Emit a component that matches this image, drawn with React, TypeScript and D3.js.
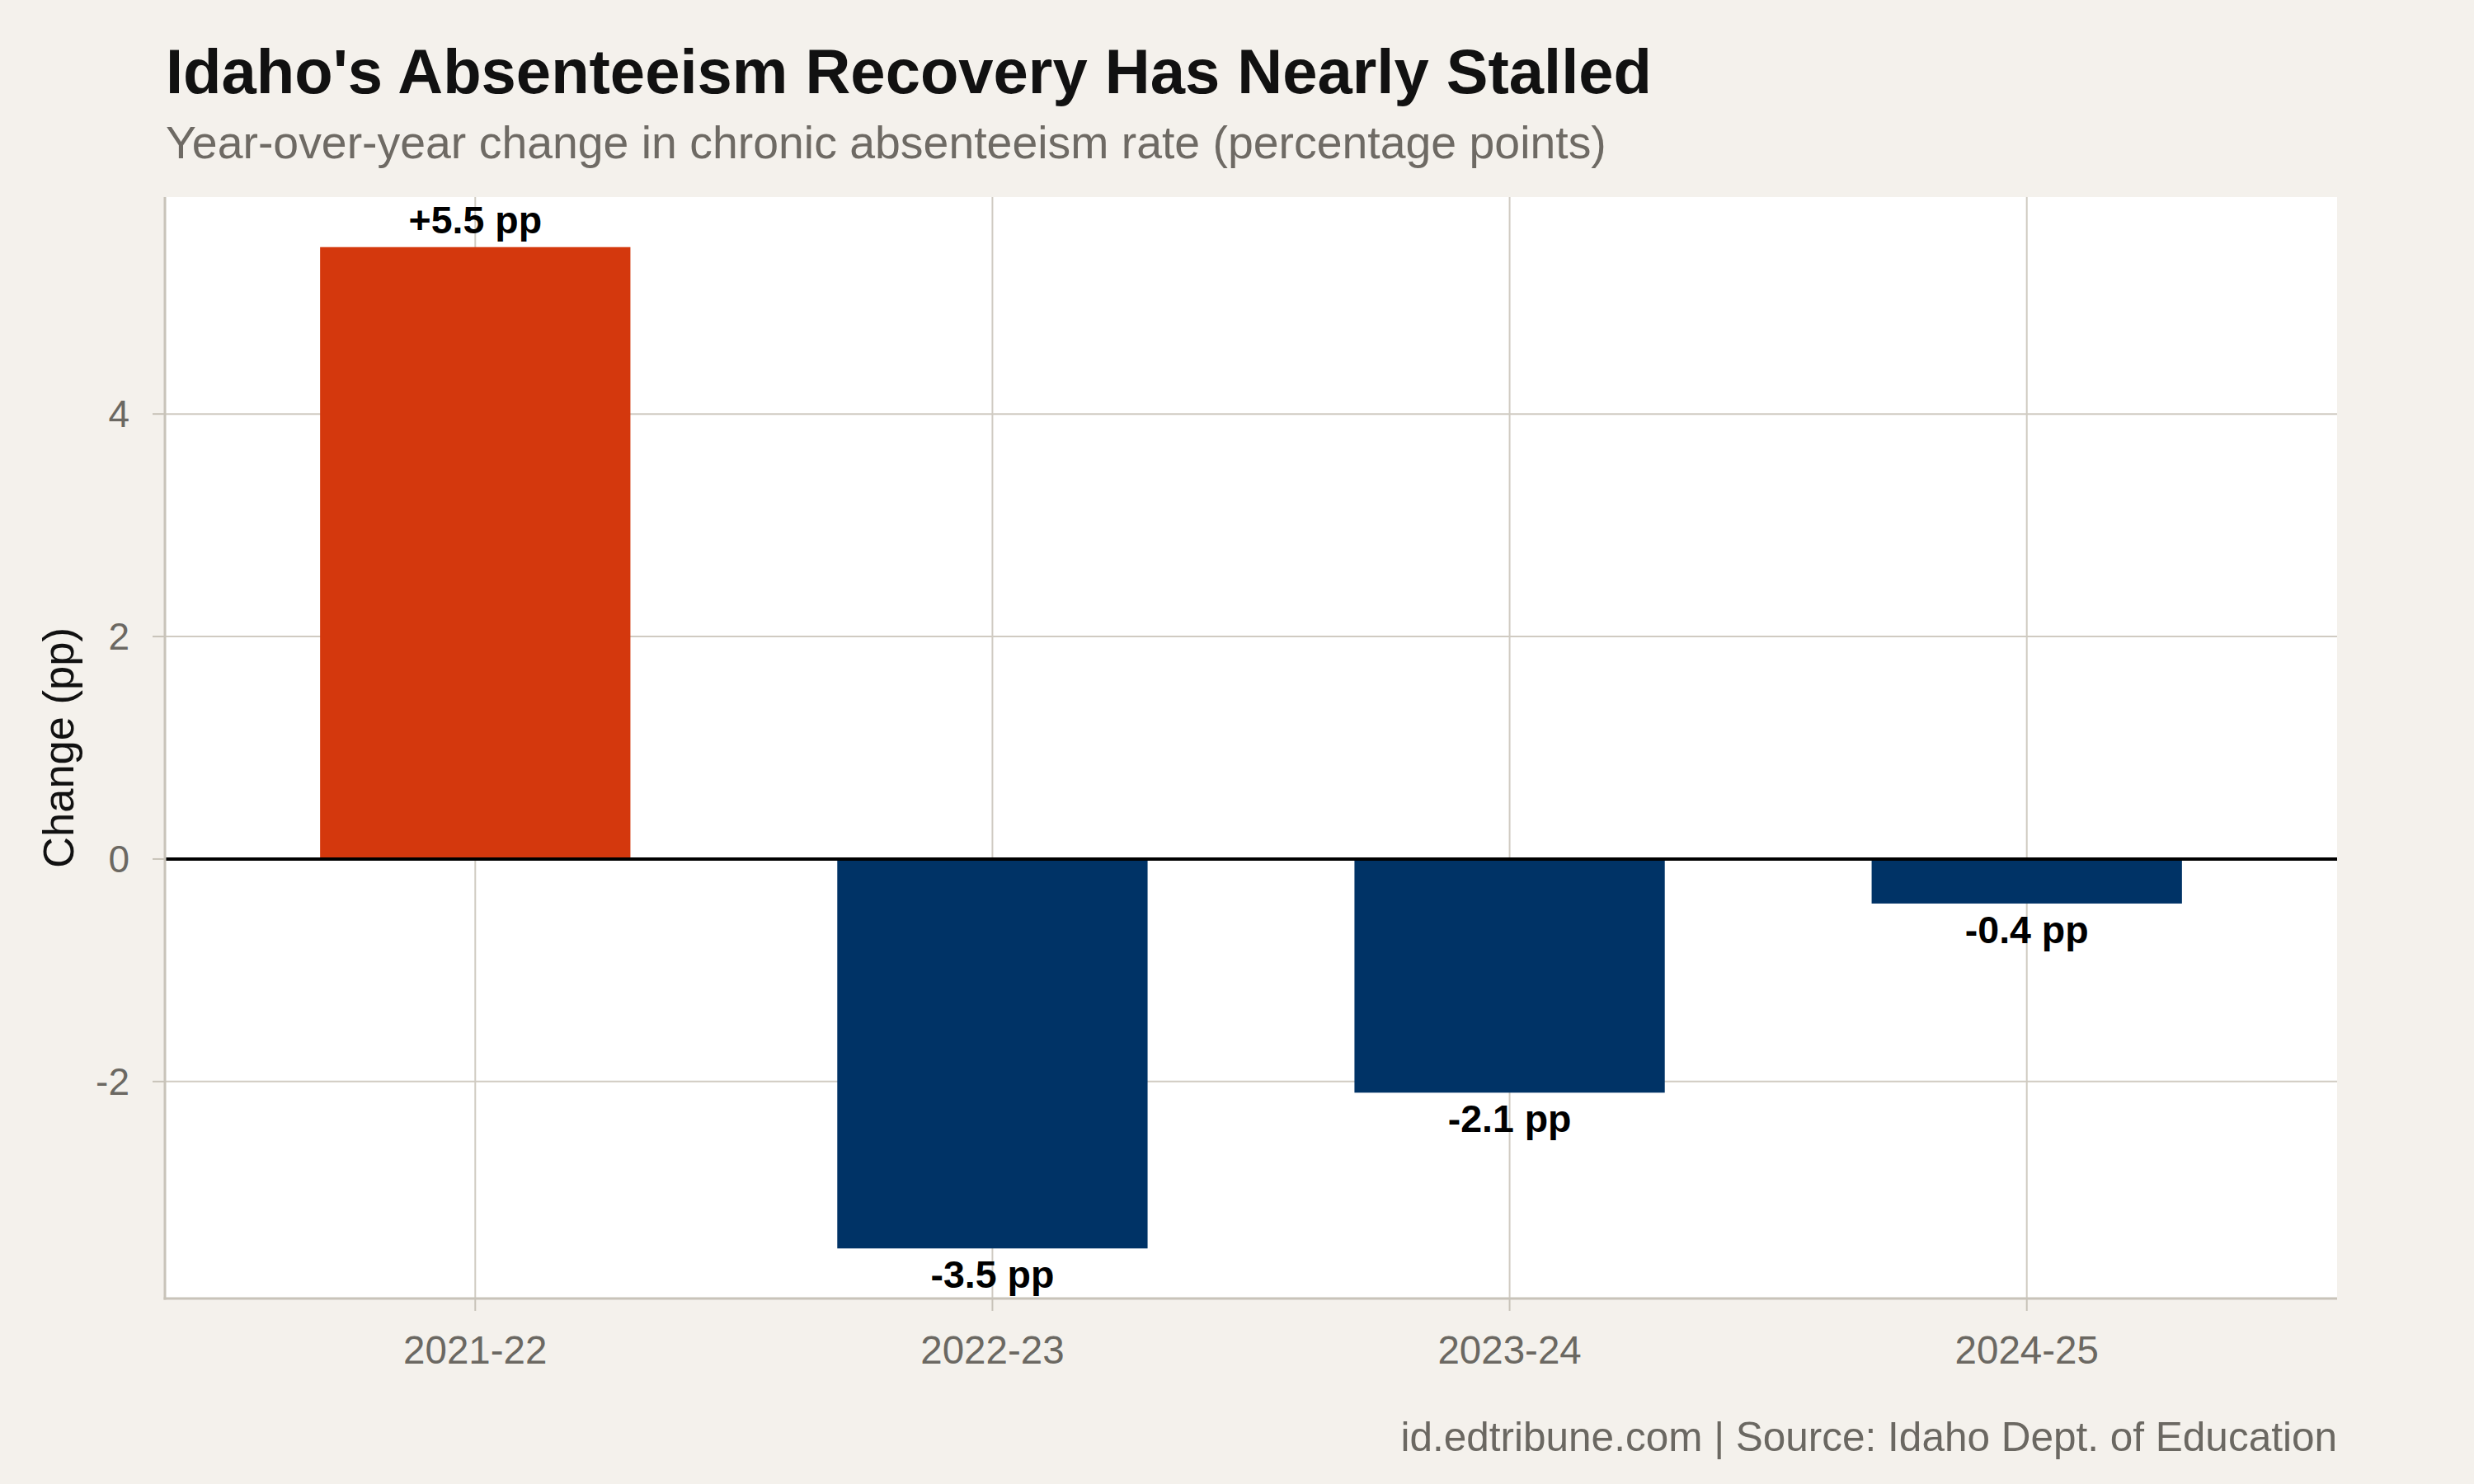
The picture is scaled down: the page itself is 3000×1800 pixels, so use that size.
import { scaleBand, scaleLinear } from "d3";

const seasons = ["2021-22", "2022-23", "2023-24", "2024-25"];
const changes = [5.5, -3.5, -2.1, -0.4];
const labels = ["+5.5 pp", "-3.5 pp", "-2.1 pp", "-0.4 pp"];
const yTicks = [-2, 0, 2, 4];

const FONT = "'Liberation Sans', Arial, Helvetica, sans-serif";

export default function App() {
  const width = 3000;
  const height = 1800;
  const left = 200;
  const right = 2834;
  const top = 239;
  const bottom = 1575;

  const x = scaleBand()
    .domain(seasons)
    .range([left, right])
    .paddingInner(0.4)
    .paddingOuter(0.3);

  // ggplot-style 5% expansion around [-3.5, 5.5]
  const y = scaleLinear().domain([-3.95, 5.95]).range([bottom, top]);

  const bw = x.bandwidth();
  const gridColor = "#d0cbc2";
  const axisColor = "#c8c3b9";
  const mutedText = "#6b6862";

  return (
    <svg
      width={width}
      height={height}
      viewBox={`0 0 ${width} ${height}`}
      style={{ position: "absolute", left: 0, top: 0, display: "block" }}
      fontFamily={FONT}
    >
      <rect width={width} height={height} fill="#f4f1ec" />

      <text x={201} y={113} fontSize={76} fontWeight="700" fill="#111111">
        Idaho's Absenteeism Recovery Has Nearly Stalled
      </text>
      <text x={201} y={192} fontSize={55.4} fill="#6e6a64">
        Year-over-year change in chronic absenteeism rate (percentage points)
      </text>

      <rect x={left} y={top} width={right - left} height={bottom - top} fill="#ffffff" />

      {yTicks.map((t) => (
        <line
          key={`gy${t}`}
          x1={left}
          x2={right}
          y1={y(t)}
          y2={y(t)}
          stroke={gridColor}
          strokeWidth={2}
        />
      ))}
      {seasons.map((s) => {
        const cx = (x(s) ?? 0) + bw / 2;
        return (
          <line
            key={`gx${s}`}
            x1={cx}
            x2={cx}
            y1={top}
            y2={bottom}
            stroke={gridColor}
            strokeWidth={2}
          />
        );
      })}

      {seasons.map((s, i) => {
        const v = changes[i];
        const y0 = y(0);
        const yv = y(v);
        return (
          <rect
            key={`bar${s}`}
            x={x(s) ?? 0}
            y={Math.min(y0, yv)}
            width={bw}
            height={Math.abs(yv - y0)}
            fill={v > 0 ? "#d4380d" : "#003366"}
          />
        );
      })}

      <line x1={left} x2={right} y1={y(0)} y2={y(0)} stroke="#000000" strokeWidth={4} />

      {seasons.map((s, i) => {
        const v = changes[i];
        const cx = (x(s) ?? 0) + bw / 2;
        return (
          <text
            key={`lab${s}`}
            x={cx}
            y={v > 0 ? y(v) - 17 : y(v) + 48}
            textAnchor="middle"
            fontSize={46.5}
            fontWeight="700"
            fill="#000000"
          >
            {labels[i]}
          </text>
        );
      })}

      {/* axes */}
      <line x1={left} x2={left} y1={top} y2={bottom + 1.5} stroke={axisColor} strokeWidth={3} />
      <line x1={left - 1.5} x2={right} y1={bottom} y2={bottom} stroke={axisColor} strokeWidth={3} />

      {yTicks.map((t) => (
        <g key={`yt${t}`}>
          <line x1={left - 15} x2={left} y1={y(t)} y2={y(t)} stroke={axisColor} strokeWidth={2} />
          <text
            x={left - 43}
            y={y(t)}
            dy="0.35em"
            textAnchor="end"
            fontSize={46}
            fill={mutedText}
          >
            {t}
          </text>
        </g>
      ))}

      {seasons.map((s) => {
        const cx = (x(s) ?? 0) + bw / 2;
        return (
          <g key={`xt${s}`}>
            <line x1={cx} x2={cx} y1={bottom} y2={bottom + 15} stroke={axisColor} strokeWidth={2} />
            <text x={cx} y={1654} textAnchor="middle" fontSize={47.5} fill={mutedText}>
              {s}
            </text>
          </g>
        );
      })}

      <text
        transform={`translate(89, ${(top + bottom) / 2}) rotate(-90)`}
        textAnchor="middle"
        fontSize={52.5}
        fill="#111111"
      >
        Change (pp)
      </text>

      <text x={right} y={1760} textAnchor="end" fontSize={49.5} fill={mutedText}>
        id.edtribune.com | Source: Idaho Dept. of Education
      </text>
    </svg>
  );
}
